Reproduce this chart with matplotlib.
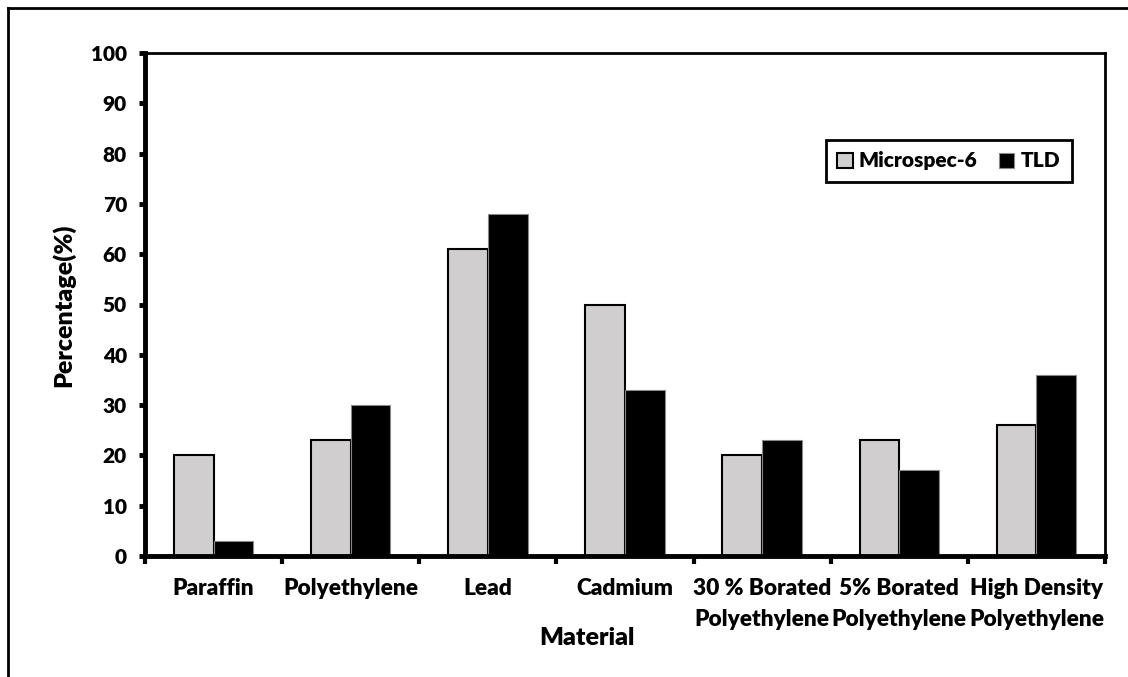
import matplotlib.pyplot as plt
import numpy as np
from matplotlib.lines import Line2D

materials = ["Paraffin", "Polyethylene", "Lead", "Cadmium",
             "30 % Borated\nPolyethylene", "5% Borated\nPolyethylene",
             "High Density\nPolyethylene"]
microspec = [20, 23, 61, 50, 20, 23, 26]
tld = [3, 30, 68, 33, 23, 17, 36]
yticks = [0, 10, 20, 30, 40, 50, 60, 70, 80, 90, 100]

plt.rcParams['font.family'] = ['Lato', 'DejaVu Sans']
plt.rcParams['font.weight'] = 'heavy'
FW = 'heavy'

fig = plt.figure(figsize=(11.28, 6.77), dpi=100)
W, H = 1128, 677
ax = fig.add_axes([145 / W, 1 - 556 / H, 960 / W, 503 / H])

x = np.arange(len(materials))
w = 0.29
ax.bar(x - w / 2, microspec, w, color='#d0cece', edgecolor='black', linewidth=1.5, label='Microspec-6')
ax.bar(x + w / 2, tld, w, color='black', edgecolor='#888888', linewidth=0.8, label='TLD')

ax.set_xlim(-0.5, len(materials) - 0.5)
ax.set_ylim(0, 100)
ax.set_yticks(yticks)
ax.set_yticklabels([str(v) for v in yticks], fontsize=15, fontweight=FW)
ax.tick_params(axis='y', direction='out', length=4, width=3.5, pad=9)

ax.set_xticks(x)
ax.set_xticklabels(materials, fontsize=16.3, fontweight=FW, linespacing=1.6)
ax.tick_params(axis='x', which='major', length=0, pad=16)
ax.set_xticks(np.arange(len(materials) + 1) - 0.5, minor=True)
ax.tick_params(axis='x', which='minor', direction='out', length=6, width=3)

ax.spines['left'].set_linewidth(3.5)
ax.spines['bottom'].set_linewidth(3.5)
ax.spines['top'].set_linewidth(2)
ax.spines['right'].set_linewidth(2)

fig.text(63 / W, 1 - 305 / H, "Percentage(%)", rotation=90, ha='center', va='center',
         fontsize=18, fontweight=FW)
fig.text(587 / W, 1 - 638 / H, "Material", ha='center', va='center',
         fontsize=18, fontweight=FW)

leg = ax.legend(loc='upper left', bbox_to_anchor=(0.709, 0.827), ncol=2,
                prop={'size': 15, 'weight': FW}, borderaxespad=0, framealpha=1,
                frameon=True, fancybox=False, handlelength=0.75, handleheight=0.75,
                handletextpad=0.3, columnspacing=1.0, borderpad=0.55)
leg.get_frame().set_edgecolor('black')
leg.get_frame().set_linewidth(2)

# outer chart border (top and left)
fig.add_artist(Line2D([8 / W, 1], [1 - 8 / H, 1 - 8 / H], color='black', linewidth=2))
fig.add_artist(Line2D([8 / W, 8 / W], [0, 1 - 8 / H], color='black', linewidth=2))

fig.savefig('out.png', dpi=100)
